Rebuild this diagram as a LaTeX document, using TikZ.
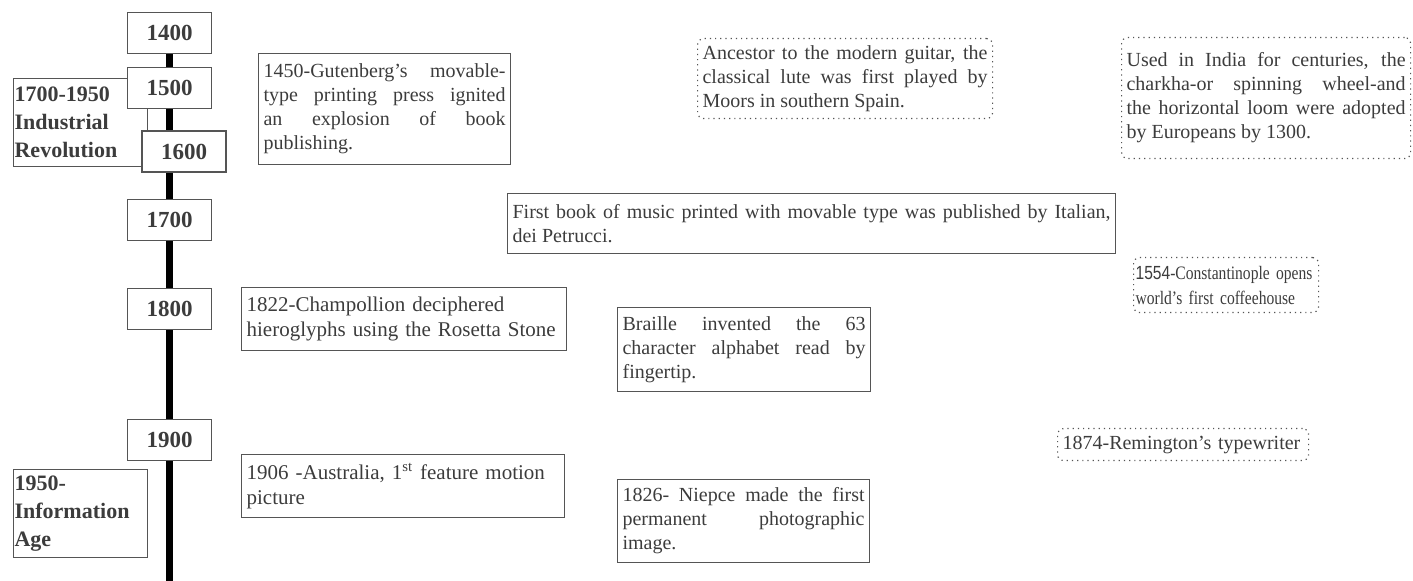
\documentclass[tikz,border=0pt]{standalone}
\usepackage{fontspec}
\setmainfont{Liberation Serif}
\newfontfamily\numfont{Liberation Sans}
\newfontfamily\narrowfont[FakeStretch=0.82, Ligatures=TeX]{Liberation Serif}
\newfontfamily\narrownum[FakeStretch=0.82]{Liberation Sans}
\usepackage{xcolor}
\usepackage{tikz}
\usetikzlibrary{
	backgrounds,
	positioning
}
\definecolor{BoxGray}{RGB}{85,85,85}
\definecolor{InkGray}{RGB}{60,60,60}

\tikzset{
	yearbox/.style={draw=BoxGray, fill=white, line width=0.6pt, minimum width=42pt, minimum height=20.5pt, inner sep=0pt, text=InkGray, font=\fontsize{11.5}{13}\selectfont\bfseries},
	erabox/.style={draw=BoxGray, fill=white, line width=0.6pt, anchor=north west, inner xsep=0.5pt, inner ysep=1pt, text width=66pt, minimum height=44pt, align=left, text=InkGray, font=\fontsize{11}{14}\selectfont\bfseries},
	eventbox/.style={draw=BoxGray, line width=0.6pt, anchor=north west, inner xsep=2.5pt, inner ysep=2pt, align=justify, text=InkGray, font=\fontsize{10}{12}\selectfont},
	notebox/.style={eventbox, dotted, rounded corners=3pt},
	timebar/.style={line width=3.5pt, black}
}

\begin{document}
\begin{tikzpicture}[x=0.5pt, y=-0.5pt]
		\useasboundingbox (0,0) rectangle (1413,581);
		
		% 时代框先画，年份框盖在上面
		\node[erabox] (industrial) at (13,78) {1700-1950\\Industrial\\Revolution};
		\node[erabox] (information) at (13,469) {1950-\\Information\\Age};
		
		\node[yearbox] (y1400) at (169.5,33) {1400};
		\node[yearbox] (y1500) at (169.5,88) {1500};
		\node[yearbox] (y1600) at (184,151.5) {1600};
		\node[yearbox] (y1700) at (169.5,220) {1700};
		\node[yearbox] (y1800) at (169.5,309) {1800};
		\node[yearbox] (y1900) at (169.5,440) {1900};
		
		\coordinate (barend) at (169.5,581);
		\begin{scope}[on background layer]
			\draw[timebar] (y1400.south) -- (barend);
		\end{scope}
		
		% 事件
		\node[eventbox, text width=121pt, minimum height=55.5pt] (gutenberg) at (258,53) {1450-Gutenberg's movable-\linebreak type printing press ignited\linebreak an explosion of book\linebreak publishing.};
		\node[notebox, text width=142.5pt, minimum height=40pt] (lute) at (697,38) {Ancestor to the modern guitar, the\linebreak classical lute was first played by\linebreak Moors in southern Spain.};
		\node[notebox, text width=139.5pt, minimum height=60.5pt] (charkha) at (1121,37) {Used in India for centuries, the\linebreak charkha-or spinning wheel-and\linebreak the horizontal loom were adopted\linebreak by Europeans by 1300.};
		\node[eventbox, text width=299pt, minimum height=30pt] (petrucci) at (507,193) {First book of music printed with movable type was published by Italian,\linebreak dei Petrucci.};
		\node[notebox, align=left, inner xsep=1pt, text width=90.5pt, minimum height=27.5pt, font=\fontsize{9.5}{12.5}\narrowfont] (coffee) at (1133,257) {{\narrownum 1554}-Constantinople opens\\world's first coffeehouse};
		\node[eventbox, align=left, text width=157.5pt, minimum height=31.5pt, font=\fontsize{10.5}{12.5}\selectfont] (champollion) at (241,287) {1822-Champollion deciphered\\hieroglyphs using the Rosetta Stone};
		\node[eventbox, text width=121.5pt, minimum height=42pt] (braille) at (617,307) {Braille invented the 63\linebreak character alphabet read by\linebreak fingertip.};
		\node[notebox, align=left, text width=120.5pt, minimum height=16pt] (remington) at (1057,428) {1874-Remington's typewriter};
		\node[eventbox, align=left, text width=156.5pt, minimum height=31.5pt, font=\fontsize{10.5}{12.5}\selectfont] (australia) at (241,454) {1906 -Australia, 1\textsuperscript{st} feature motion\\picture};
		\node[eventbox, text width=121pt, minimum height=41.5pt] (niepce) at (617,479) {1826- Niepce made the first\linebreak permanent photographic\linebreak image.};
	\end{tikzpicture}
\end{document}
